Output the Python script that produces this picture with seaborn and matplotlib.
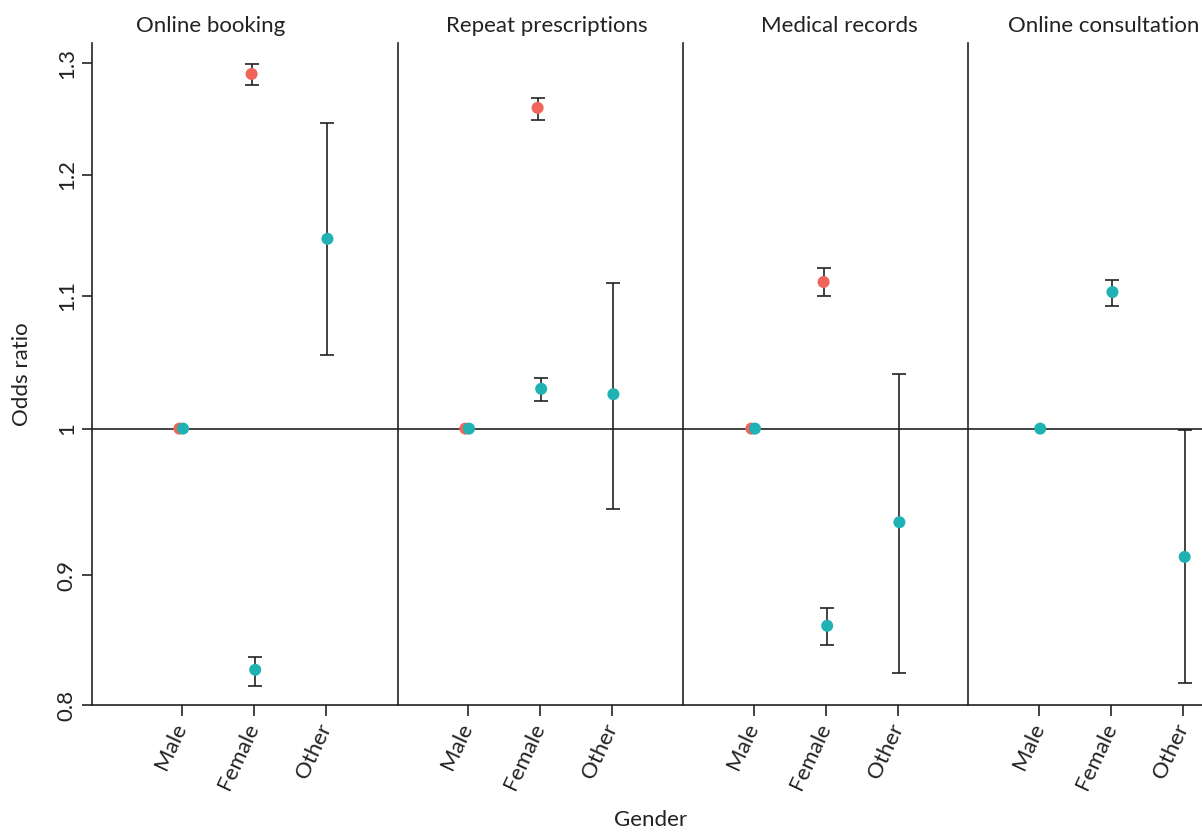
import numpy as np
import pandas as pd
import matplotlib
matplotlib.use("Agg")
import matplotlib.pyplot as plt
import matplotlib.ticker as mticker
import seaborn as sns

# ---------------- data ----------------
panels = ["Online booking", "Repeat prescriptions", "Medical records", "Online consultation"]
genders = ["Male", "Female", "Other"]

# red series (no estimate for "Other", none at all for online consultation)
red_panel = ["Online booking"] * 2 + ["Repeat prescriptions"] * 2 + ["Medical records"] * 2
red_gender = ["Male", "Female"] * 3
red_or = [1.0, 1.290, 1.0, 1.259, 1.0, 1.111]
red_lo = [np.nan, 1.280, np.nan, 1.248, np.nan, 1.100]
red_hi = [np.nan, 1.299, np.nan, 1.268, np.nan, 1.122]

# teal series
teal_panel = [p for p in panels for _ in genders]
teal_gender = genders * 4
teal_or = [1.0, 0.841, 1.146, 1.0, 1.029, 1.025, 1.0, 0.868, 0.935, 1.0, 1.103, 0.912]
teal_lo = [np.nan, 0.831, 1.054, np.nan, 1.020, 0.944, np.nan, 0.856, 0.839, np.nan, 1.092, 0.833]
teal_hi = [np.nan, 0.849, 1.245, np.nan, 1.037, 1.110, np.nan, 0.879, 1.040, np.nan, 1.113, 0.999]

y_ticks = [0.82, 0.9, 1.0, 1.1, 1.2, 1.3]
y_labels = ["0.8", "0.9", "1", "1.1", "1.2", "1.3"]

# ---------------- build long table ----------------
df = pd.concat([
    pd.DataFrame({"panel": red_panel, "gender": red_gender, "or": red_or,
                  "lo": red_lo, "hi": red_hi, "series": "A"}),
    pd.DataFrame({"panel": teal_panel, "gender": teal_gender, "or": teal_or,
                  "lo": teal_lo, "hi": teal_hi, "series": "B"}),
], ignore_index=True)
pos = {g: i for i, g in enumerate(genders)}
shift = {"A": -0.03, "B": 0.02}
df["x"] = df["gender"].map(pos) + df["series"].map(shift)

palette = {"A": "#F0645A", "B": "#20B1B3"}
ink = "#222222"
fs = 16

sns.set_style("white")
plt.rcParams["font.family"] = ["Lato", "DejaVu Sans"]
plt.rcParams["text.color"] = ink
plt.rcParams["xtick.color"] = ink
plt.rcParams["ytick.color"] = ink

# panel x-ranges (the first panel is a bit wider, the last one is cut off)
xlims = [(-1.24, 3.0), (-0.96, 2.99), (-0.97, 2.97), (-0.98, 2.26)]
widths = [b - a for a, b in xlims]
title_x = [0.386, 0.521, 0.549, 0.581]

fig, axes = plt.subplots(1, 4, figsize=(12.02, 8.32), dpi=100, sharey=True,
                         gridspec_kw={"width_ratios": widths, "wspace": 0})
fig.subplots_adjust(left=92 / 1202, right=1.0, bottom=1 - 705 / 832, top=1 - 43 / 832)

for i, (ax, name) in enumerate(zip(axes, panels)):
    sub = df[df["panel"] == name]
    ax.axhline(1, color=ink, lw=1.2, zorder=1)
    eb = sub.dropna(subset=["lo"])
    ax.errorbar(eb["x"], eb["or"], yerr=[eb["or"] - eb["lo"], eb["hi"] - eb["or"]],
                fmt="none", ecolor=ink, elinewidth=1.2, capsize=5, capthick=1.2, zorder=2)
    sns.scatterplot(data=sub, x="x", y="or", hue="series", palette=palette,
                    s=75, edgecolor="none", legend=False, ax=ax, zorder=3)

    ax.set_yscale("log")
    ax.set_xlim(*xlims[i])
    ax.set_xticks(range(len(genders)))
    ax.set_xticklabels(genders, rotation=65, ha="right", va="center",
                       rotation_mode="anchor", fontsize=fs)
    ax.tick_params(axis="x", bottom=True, length=8, width=1.2, pad=6)
    ax.set_xlabel("")
    ax.set_ylabel("")
    ax.set_title(name, x=title_x[i], fontsize=fs, pad=8)

    for s in ["top", "right"]:
        ax.spines[s].set_visible(False)
    for s in ["left", "bottom"]:
        ax.spines[s].set_color(ink)
        ax.spines[s].set_linewidth(1.2)

# shared log y-axis: set ticks once all panels are on log scale
ax0 = axes[0]
ax0.set_ylim(0.82, 1.319)
ax0.yaxis.set_major_locator(mticker.FixedLocator(y_ticks))
ax0.yaxis.set_major_formatter(mticker.FixedFormatter(y_labels))
ax0.yaxis.set_minor_locator(mticker.NullLocator())
ax0.tick_params(axis="y", left=True, length=7, width=1.2, pad=4, labelsize=fs)
for lab in ax0.get_yticklabels():
    lab.set_rotation(90)
    lab.set_va("center")
for ax in axes[1:]:
    ax.tick_params(axis="y", which="both", left=False, length=0, labelleft=False)

fig.text(22 / 1202, 1 - 374 / 832, "Odds ratio", rotation=90, ha="center", va="center", fontsize=fs)
fig.text(651 / 1202, 1 - 820 / 832, "Gender", ha="center", va="center", fontsize=fs)

fig.savefig("out.png", dpi=100)
